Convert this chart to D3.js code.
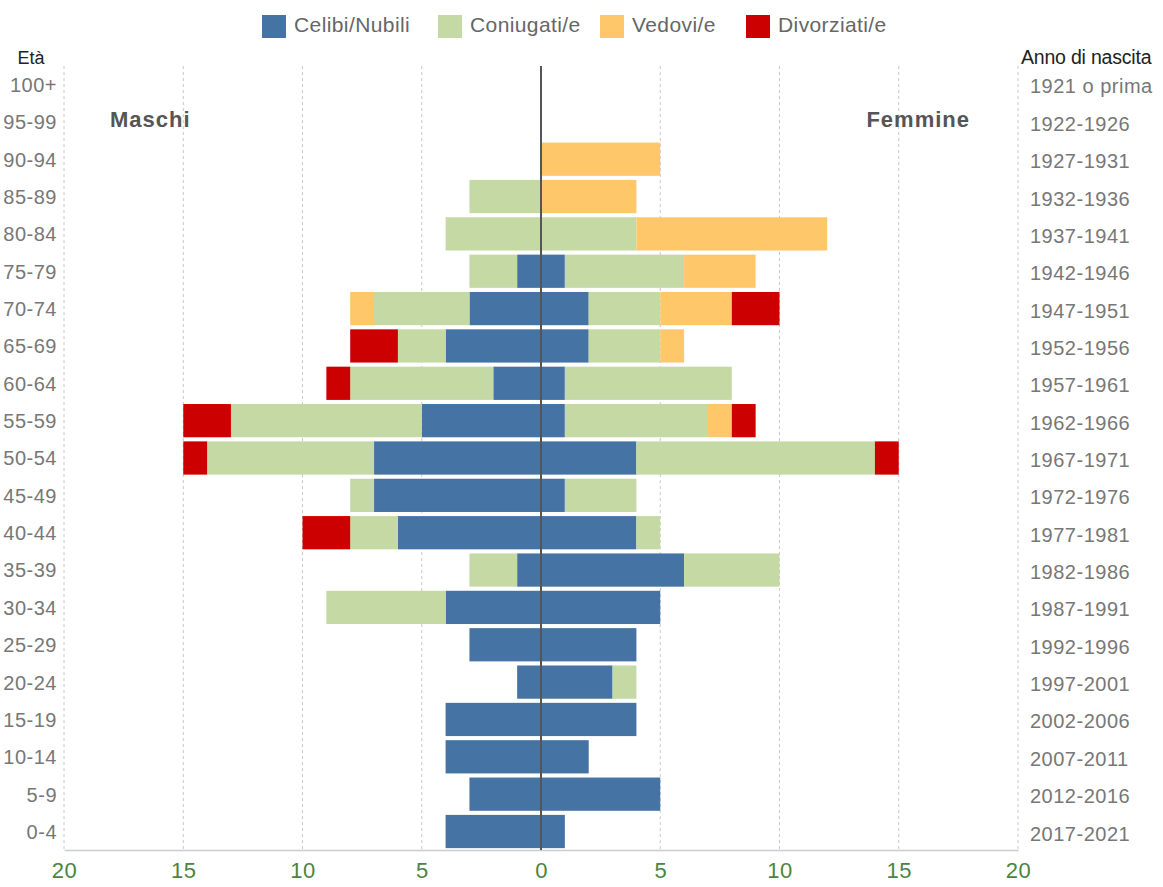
<!DOCTYPE html>
<html>
<head>
<meta charset="utf-8">
<script src="https://cdn.jsdelivr.net/npm/d3@7"></script>
<style>
  body { margin: 0; background: #fff; }
  svg { font-family: "Liberation Sans", Arial, sans-serif; }
</style>
</head>
<body>
<svg id="chart"></svg>
<script>
// Age classes, top to bottom
const ages = ["100+", "95-99", "90-94", "85-89", "80-84", "75-79", "70-74", "65-69", "60-64", "55-59",
              "50-54", "45-49", "40-44", "35-39", "30-34", "25-29", "20-24", "15-19", "10-14", "5-9", "0-4"];
const births = ["1921 o prima", "1922-1926", "1927-1931", "1932-1936", "1937-1941", "1942-1946", "1947-1951",
                "1952-1956", "1957-1961", "1962-1966", "1967-1971", "1972-1976", "1977-1981", "1982-1986",
                "1987-1991", "1992-1996", "1997-2001", "2002-2006", "2007-2011", "2012-2016", "2017-2021"];
const statuses = ["Celibi/Nubili", "Coniugati/e", "Vedovi/e", "Divorziati/e"];
const colors = ["#4473a4", "#c5d9a4", "#fec86a", "#cc0000"];
const xTicks = [-20, -15, -10, -5, 0, 5, 10, 15, 20];

// Males, one array per status, same order as ages
const mCelibi     = [0, 0, 0, 0, 0, 1, 3, 4, 2, 5, 7, 7, 6, 1, 4, 3, 1, 4, 4, 3, 4];
const mConiugati  = [0, 0, 0, 3, 4, 2, 4, 2, 6, 8, 7, 1, 2, 2, 5, 0, 0, 0, 0, 0, 0];
const mVedovi     = [0, 0, 0, 0, 0, 0, 1, 0, 0, 0, 0, 0, 0, 0, 0, 0, 0, 0, 0, 0, 0];
const mDivorziati = [0, 0, 0, 0, 0, 0, 0, 2, 1, 2, 1, 0, 2, 0, 0, 0, 0, 0, 0, 0, 0];
// Females
const fNubili     = [0, 0, 0, 0, 0, 1, 2, 2, 1, 1, 4, 1, 4, 6, 5, 4, 3, 4, 2, 5, 1];
const fConiugate  = [0, 0, 0, 0, 4, 5, 3, 3, 7, 6, 10, 3, 1, 4, 0, 0, 1, 0, 0, 0, 0];
const fVedove     = [0, 0, 5, 4, 8, 3, 3, 1, 0, 1, 0, 0, 0, 0, 0, 0, 0, 0, 0, 0, 0];
const fDivorziate = [0, 0, 0, 0, 0, 0, 2, 0, 0, 1, 1, 0, 0, 0, 0, 0, 0, 0, 0, 0, 0];

const width = 1163, height = 887;
const svg = d3.select("#chart").attr("width", width).attr("height", height);

const x = d3.scaleLinear().domain([-20, 20]).range([64, 1018]);
const y = d3.scaleBand().domain(ages).range([66, 850]).paddingInner(0.11).paddingOuter(0.05);

// Grid lines
svg.append("g")
    .selectAll("line")
    .data(xTicks.filter(d => d !== 0))
    .join("line")
        .attr("x1", d => x(d)).attr("x2", d => x(d))
        .attr("y1", 66).attr("y2", 850)
        .style("stroke", "#c8c8c8")
        .style("stroke-width", "1px")
        .style("stroke-dasharray", "3,3");

// Build stacked segments, males go left (negative)
function stackRows (series, sign) {
    let rows = [];
    ages.forEach((a, i) => {
        let acc = 0;
        series.forEach((s, k) => {
            if (s[i] > 0) rows.push({age: a, k: k, x0: sign * acc, x1: sign * (acc + s[i])});
            acc += s[i];
        });
    });
    return rows;
}
const segs = stackRows([mCelibi, mConiugati, mVedovi, mDivorziati], -1)
    .concat(stackRows([fNubili, fConiugate, fVedove, fDivorziate], 1));

svg.append("g")
    .selectAll("rect")
    .data(segs)
    .join("rect")
        .attr("x", d => x(Math.min(d.x0, d.x1)))
        .attr("width", d => Math.abs(x(d.x1) - x(d.x0)))
        .attr("y", d => y(d.age))
        .attr("height", y.bandwidth())
        .style("fill", d => colors[d.k]);

// Bottom axis
const xAxis = svg.append("g")
    .attr("transform", "translate(0,850)")
    .call(d3.axisBottom(x).tickValues(xTicks).tickFormat(d => Math.abs(d)).tickSize(0).tickPadding(12));
xAxis.select(".domain").style("stroke", "#cccccc").style("stroke-width", "1.5px");
xAxis.selectAll("text")
    .style("font-size", "22px")
    .style("letter-spacing", "0.5px")
    .style("font-family", "\"Liberation Sans\", Arial, sans-serif")
    .attr("fill", "#4a8540");

// Centre line
svg.append("line")
    .attr("x1", x(0)).attr("x2", x(0))
    .attr("y1", 66).attr("y2", 850)
    .style("stroke", "#555555")
    .style("stroke-width", "2px");

// Age labels on the left
const yLeft = svg.append("g")
    .attr("transform", "translate(57,1)")
    .call(d3.axisLeft(y).tickSize(0).tickPadding(0));
yLeft.select(".domain").remove();
yLeft.selectAll("text")
    .style("font-size", "20px")
    .style("letter-spacing", "0.5px")
    .style("font-family", "\"Liberation Sans\", Arial, sans-serif")
    .attr("fill", "#777777");

// Birth years on the right
svg.append("g")
    .selectAll("text")
    .data(births)
    .join("text")
        .attr("x", 1030)
        .attr("y", (d, i) => y(ages[i]) + y.bandwidth() / 2 + 2)
        .attr("dy", "0.35em")
        .text(d => d)
        .style("font-size", "20px")
        .style("letter-spacing", "0.5px")
        .attr("fill", "#777777");

// Column titles
svg.append("text").attr("x", 31).attr("y", 64).attr("text-anchor", "middle")
    .text("Età").style("font-size", "18px").attr("fill", "#222");
svg.append("text").attr("x", 1021).attr("y", 64)
    .text("Anno di nascita").style("font-size", "19.5px").style("letter-spacing", "-0.2px").attr("fill", "#222");

// Sex labels
svg.append("text").attr("x", 110).attr("y", 127)
    .text("Maschi").style("font-size", "22px").style("font-weight", "bold")
    .style("letter-spacing", "1px").attr("fill", "#555");
svg.append("text").attr("x", 970).attr("y", 127).attr("text-anchor", "end")
    .text("Femmine").style("font-size", "22px").style("font-weight", "bold")
    .style("letter-spacing", "1px").attr("fill", "#555");

// Legend
const legendX = [262, 438, 600, 746];
const lg = svg.append("g")
    .selectAll("g")
    .data(statuses)
    .join("g")
        .attr("transform", (d, i) => "translate(" + legendX[i] + ",15)");
lg.append("rect")
    .attr("width", 24).attr("height", 23)
    .style("fill", (d, i) => colors[i]);
lg.append("text")
    .attr("x", 32).attr("y", 17)
    .text(d => d)
    .style("font-size", "21px")
    .style("letter-spacing", "0.4px")
    .attr("fill", "#666");
</script>
</body>
</html>
